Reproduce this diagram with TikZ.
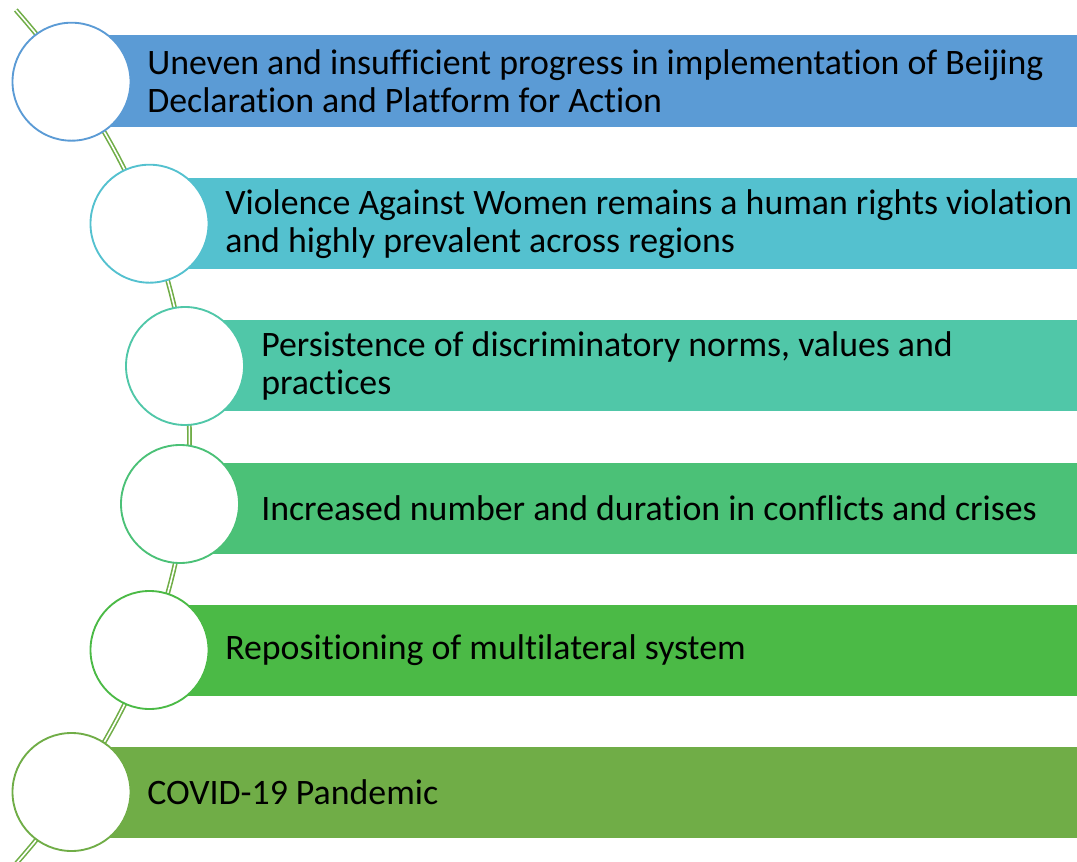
\documentclass[tikz,border=0pt]{standalone}
\usepackage{fontspec}
\setmainfont{Carlito}[Ligatures=NoCommon]
\usepackage{tikz}

\definecolor{accA}{HTML}{5B9BD5}
\definecolor{accB}{HTML}{54C1CF}
\definecolor{accC}{HTML}{50C7A8}
\definecolor{accD}{HTML}{4BC177}
\definecolor{accE}{HTML}{4BBA46}
\definecolor{accF}{HTML}{70AD47}

\begin{document}
\begin{tikzpicture}[x=0.75pt,y=-0.75pt,
  bar/.style={draw=white,line width=0.75pt},
  ring/.style={circle,draw,fill=white,line width=1.4pt,minimum size=88.5pt,inner sep=0pt},
  txt/.style={anchor=west,inner sep=0pt,align=left,font=\fontsize{26.85}{28.8}\selectfont},
  rail/.style={draw=accF,double=white,double distance=1.2pt,line width=1.2pt}]
\useasboundingbox (0,0) rectangle (1077,862);

%Shape: Rectangle [bars]
\draw[bar,fill=accA] (71.5,35) rectangle (1082,128);
\draw[bar,fill=accB] (149.5,178) rectangle (1082,270);
\draw[bar,fill=accC] (185,320) rectangle (1082,412);
\draw[bar,fill=accD] (180,462) rectangle (1082,554);
\draw[bar,fill=accE] (149.5,604) rectangle (1082,696);
\draw[bar,fill=accF] (71.5,746) rectangle (1082,838);

%Curve Lines [rail]
\draw[rail] plot[domain=-33:31.35,samples=80] ({-1000+1189.5*cos(\x)},{437-820.8*sin(\x)});

%Shape: Circle
\node[ring,draw=accA] (ring1) at (71.5,81.7) {};
\node[ring,draw=accB] (ring2) at (149.5,223.7) {};
\node[ring,draw=accC] (ring3) at (185,366) {};
\node[ring,draw=accD] (ring4) at (180,504) {};
\node[ring,draw=accE] (ring5) at (149.5,650) {};
\node[ring,draw=accF] (ring6) at (71.5,792) {};

% Text Node
\node[txt] (note1) at (147,81.5) {Uneven and insufficient progress in implementation of Beijing\\Declaration and Platform for Action};
% Text Node
\node[txt] (note2) at (225,224) {Violence Against Women remains a human rights violation\\and highly prevalent across regions};
% Text Node
\node[txt] (note3) at (261,366) {Persistence of discriminatory norms, values and\\practices};
% Text Node
\node[txt] (note4) at (261,508) {Increased number and duration in conflicts and crises};
% Text Node
\node[txt] (note5) at (225,650) {Repositioning of multilateral system};
% Text Node
\node[txt] (note6) at (147,792) {COVID-19 Pandemic};

\end{tikzpicture}
\end{document}
